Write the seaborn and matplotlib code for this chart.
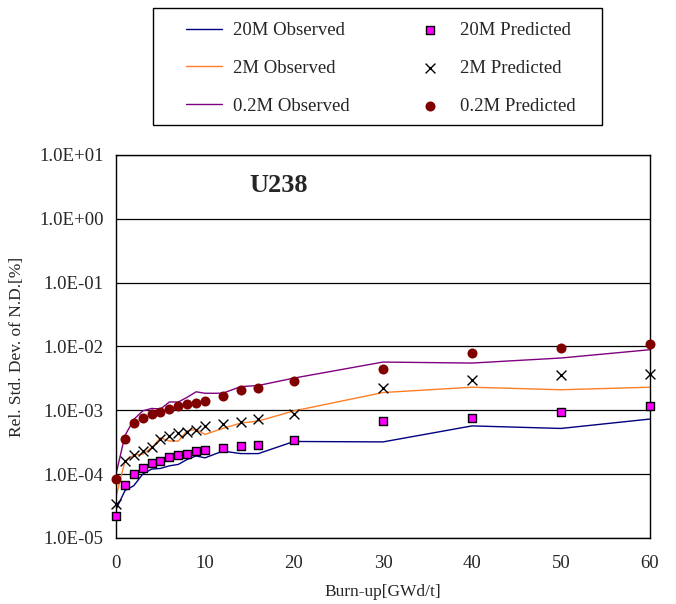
import pandas as pd
import matplotlib
matplotlib.use("Agg")
import matplotlib.pyplot as plt
import seaborn as sns
from matplotlib.patches import Rectangle
from matplotlib.ticker import FixedLocator, FuncFormatter, NullLocator

# burn-up steps [GWd/t]
burnup = [0, 1, 2, 3, 4, 5, 6, 7, 8, 9, 10, 12, 14, 16, 20, 30, 40, 50, 60]

# observed relative std. dev. (lines)
obs_20m = [2.8e-5, 5.5e-5, 6.6e-5, 1.0e-4, 1.2e-4, 1.23e-4, 1.35e-4, 1.42e-4, 1.7e-4, 1.93e-4,
           1.8e-4, 2.3e-4, 2.1e-4, 2.1e-4, 3.25e-4, 3.2e-4, 5.7e-4, 5.2e-4, 7.3e-4]
obs_2m = [4.4e-5, 1.6e-4, 2.0e-4, 2.05e-4, 2.6e-4, 3.7e-4, 3.3e-4, 3.3e-4, 4.8e-4, 5.0e-4,
          4.2e-4, 5.2e-4, 6.3e-4, 6.8e-4, 9.8e-4, 1.9e-3, 2.3e-3, 2.1e-3, 2.3e-3]
obs_02m = [1.0e-4, 4.0e-4, 7.2e-4, 9.8e-4, 1.07e-3, 1.05e-3, 1.35e-3, 1.35e-3, 1.6e-3, 1.95e-3,
           1.85e-3, 1.85e-3, 2.35e-3, 2.45e-3, 3.2e-3, 5.7e-3, 5.5e-3, 6.6e-3, 8.9e-3]

# predicted relative std. dev. (markers)
pred_20m = [2.2e-5, 6.7e-5, 9.9e-5, 1.26e-4, 1.48e-4, 1.6e-4, 1.85e-4, 2.0e-4, 2.1e-4, 2.27e-4,
            2.35e-4, 2.6e-4, 2.75e-4, 2.9e-4, 3.45e-4, 6.9e-4, 7.5e-4, 9.5e-4, 1.15e-3]
pred_2m = [3.4e-5, 1.6e-4, 2.0e-4, 2.3e-4, 2.7e-4, 3.5e-4, 4.0e-4, 4.4e-4, 4.6e-4, 4.9e-4,
           5.6e-4, 6.0e-4, 6.6e-4, 7.4e-4, 8.8e-4, 2.2e-3, 3.0e-3, 3.6e-3, 3.7e-3]
pred_02m = [8.3e-5, 3.5e-4, 6.3e-4, 7.5e-4, 8.7e-4, 9.4e-4, 1.04e-3, 1.15e-3, 1.25e-3, 1.32e-3,
            1.38e-3, 1.7e-3, 2.05e-3, 2.25e-3, 2.9e-3, 4.4e-3, 7.9e-3, 9.5e-3, 1.1e-2]

yticks = [1e-5, 1e-4, 1e-3, 1e-2, 1e-1, 1e0, 1e1]
xticks = [0, 10, 20, 30, 40, 50, 60]

sns.set_style("white")
plt.rcParams['font.family'] = ['Liberation Serif', 'DejaVu Serif']

fig = plt.figure(figsize=(6.76, 6.04), dpi=100)
ax = fig.add_axes([0.1716, 0.1093, 0.7899, 0.6341])

obs = [("20M Observed", obs_20m, "#000080"),
       ("2M Observed", obs_2m, "#FF7F27"),
       ("0.2M Observed", obs_02m, "#800080")]
for name, vals, col in obs:
    df = pd.DataFrame({"x": burnup, "y": vals})
    sns.lineplot(data=df, x="x", y="y", ax=ax, color=col, lw=1.0,
                 sort=False, estimator=None, label=name, legend=False)

pred = [("20M Predicted", pred_20m, dict(marker="s", color="#FF00FF", edgecolor="black", s=40, linewidth=1.0)),
        ("2M Predicted", pred_2m, dict(marker="x", color="black", s=50, linewidth=1.0)),
        ("0.2M Predicted", pred_02m, dict(marker="o", color="#800000", edgecolor="#800000", s=52, linewidth=0))]
for name, vals, kw in pred:
    df = pd.DataFrame({"x": burnup, "y": vals})
    sns.scatterplot(data=df, x="x", y="y", ax=ax, label=name, legend=False,
                    clip_on=False, zorder=5, **kw)

ax.set_yscale("log")
ax.set_ylim(1e-5, 1e1)
ax.set_xlim(0, 60)
ax.yaxis.set_major_locator(FixedLocator(yticks))
ax.yaxis.set_minor_locator(NullLocator())
ax.yaxis.set_major_formatter(FuncFormatter(lambda v, p: "{:.1E}".format(v)))
ax.set_xticks(xticks)
ax.grid(axis="y", color="black", lw=0.9)
ax.tick_params(axis="y", length=0, labelsize=13.5, pad=9)
ax.tick_params(axis="x", direction="in", length=4, width=0.9, labelsize=13.5, pad=12)
for sp in ax.spines.values():
    sp.set_color("black")
    sp.set_linewidth(1.0)

ax.set_xlabel("Burn-up[GWd/t]", fontsize=12.5, labelpad=9)
ax.set_ylabel("Rel. Std. Dev. of N.D.[%]", fontsize=12.5, labelpad=10)
ax.text(0.25, 0.92, "U238", transform=ax.transAxes, fontsize=19, fontweight="bold",
        ha="left", va="center")

# legend box drawn separately so the entries can sit inset like the original
fig.patches.append(Rectangle((0.2263, 0.793), 0.6642, 0.1937, transform=fig.transFigure,
                             fill=False, edgecolor="black", lw=1.0))
handles, labels = ax.get_legend_handles_labels()
fig.legend(handles, labels, ncol=2, loc="upper left", bbox_to_anchor=(0.2751, 0.9636),
           fontsize=13.5, frameon=False, handlelength=1.9, handletextpad=0.6,
           labelspacing=1.1, columnspacing=3.37, borderpad=0, borderaxespad=0)

fig.savefig("out.png", dpi=100)
